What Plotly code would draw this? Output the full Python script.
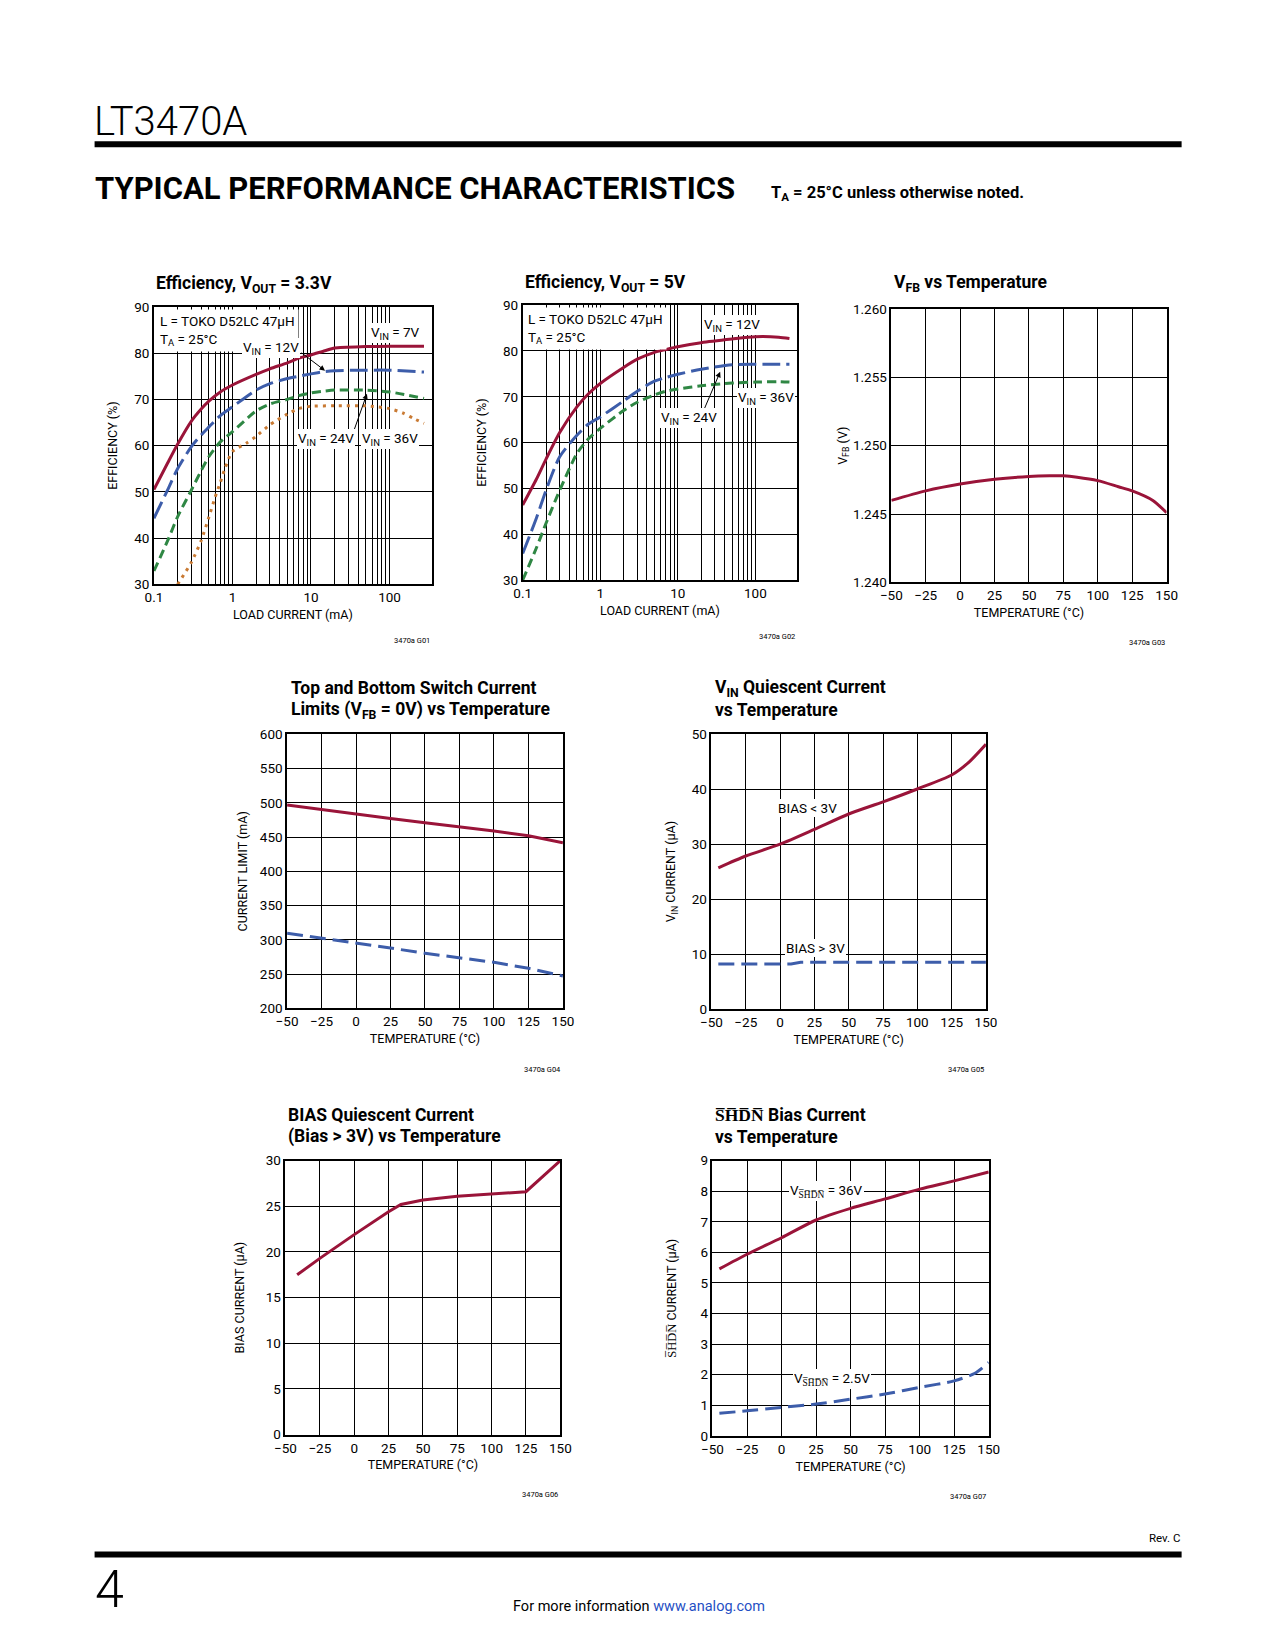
import math
import plotly.graph_objects as go

# Page geometry. The photographed page was measured to map a page point p to
# A*p + B in the picture, so target positions are pre-compensated below.
PAGE_W, PAGE_H = 1275, 1650
OFF = 8
W, H = PAGE_W - 2 * OFF, PAGE_H - 2 * OFF
AX, BX = 0.9816, 11.63
AY, BY = 0.9904, 7.89
FONT = "Roboto"
RED = "#9A1439"
BLUE = "#3D5DAA"
GREEN = "#2F8744"
ORANGE = "#C97A33"

# ---------------- data ----------------
eff33_load = [0.1, 0.15, 0.2, 0.3, 0.4, 0.5, 0.7, 1, 2, 3, 5, 7, 10, 15, 20, 50, 100, 275]
eff33_vin7 = [50.5, 56.3, 60.3, 65.3, 67.9, 69.6, 71.6, 73.1, 75.4, 76.6, 77.9, 78.9, 79.6, 80.5, 81.1, 81.4, 81.5, 81.5]
eff33_vin12 = [44.3, 50.5, 55.0, 59.8, 62.3, 64.0, 66.5, 68.4, 72.0, 73.4, 74.5, 75.0, 75.5, 76.0, 76.2, 76.3, 76.3, 75.9]
eff33_vin24 = [32.9, 39.5, 44.6, 50.4, 54.6, 57.6, 60.8, 63.0, 67.5, 69.0, 70.0, 70.8, 71.4, 71.8, 72.0, 72.0, 71.6, 70.2]
eff33_vin36_load = [0.2, 0.3, 0.4, 0.5, 0.6, 0.7, 0.8, 1, 1.5, 2, 3, 5, 7, 10, 20, 50, 100, 150, 200, 275]
eff33_vin36 = [30.0, 34.8, 39.5, 44.5, 48.8, 52.0, 55.0, 58.7, 60.5, 62.0, 64.5, 66.8, 68.0, 68.5, 68.6, 68.6, 68.0, 67.0, 65.9, 64.8]

eff5_load = [0.1, 0.15, 0.2, 0.3, 0.5, 0.7, 1, 2, 3, 5, 7, 10, 20, 50, 100, 200, 275]
eff5_vin12 = [46.4, 52.0, 56.4, 62.2, 67.8, 70.6, 72.9, 76.4, 78.2, 79.7, 80.3, 80.9, 81.8, 82.6, 83.1, 83.0, 82.7]
eff5_vin24 = [35.8, 43.5, 49.6, 56.9, 61.6, 64.0, 65.6, 69.1, 71.2, 73.4, 74.2, 74.9, 76.0, 77.0, 77.1, 77.1, 77.1]
eff5_vin36 = [30.0, 37.0, 42.4, 49.6, 57.6, 60.8, 63.1, 67.0, 68.8, 70.4, 71.2, 71.7, 72.4, 73.0, 73.2, 73.3, 73.2]

vfb_temp = [-50, -25, 0, 25, 50, 65, 75, 85, 100, 115, 125, 140, 150]
vfb_volts = [1.2460, 1.2467, 1.2472, 1.24755, 1.24775, 1.2478, 1.2478, 1.2477, 1.24745, 1.2470, 1.2467, 1.2460, 1.2451]

ilim_temp = [-50, -25, 0, 25, 50, 75, 100, 125, 150]
ilim_top = [496.8, 490.0, 483.7, 477.0, 471.0, 465.0, 458.8, 451.8, 441.8]
ilim_bottom = [309.5, 302.5, 295.9, 288.0, 280.3, 273.5, 267.1, 258.4, 247.2]

iq_temp_lt3 = [-45, -25, 0, 25, 50, 75, 100, 125, 137, 150]
iq_bias_lt3 = [25.7, 27.85, 30.0, 32.7, 35.5, 37.7, 40.05, 42.6, 44.8, 48.2]
iq_temp_gt3 = [-45, 0, 8, 15, 150]
iq_bias_gt3 = [8.2, 8.2, 8.2, 8.5, 8.5]

bias_temp = [-41.5, -25, 0, 25, 34, 50, 75, 100, 125, 150]
bias_current = [17.5, 19.3, 21.9, 24.4, 25.2, 25.7, 26.1, 26.35, 26.6, 30.0]

shdn_temp36 = [-45, -25, 0, 25, 50, 75, 100, 125, 150]
shdn_36v = [5.46, 5.94, 6.48, 7.06, 7.44, 7.75, 8.07, 8.34, 8.63]
shdn_temp25 = [-45, -25, 0, 25, 50, 75, 100, 125, 140, 150]
shdn_25v = [0.74, 0.82, 0.93, 1.04, 1.20, 1.37, 1.59, 1.80, 2.05, 2.40]

temp_ticks = [-50, -25, 0, 25, 50, 75, 100, 125, 150]
load_major = [0.1, 1, 10, 100]
load_major_text = ["0.1", "1", "10", "100"]
load_minor = [0.2, 0.3, 0.4, 0.5, 0.6, 0.7, 0.8, 0.9,
              2, 3, 4, 5, 6, 7, 8, 9,
              20, 30, 40, 50, 60, 70, 80, 90]

OVL = "\u0305"
SHDN = "".join(c + OVL for c in "SHDN")

def px(x):
    return ((x - BX) / AX - OFF) / W

def py(y):
    return 1 - ((y - BY) / AY - OFF) / H

panels = {
    1: (154.3, 432.0, 306.7, 584.3),
    2: (522.7, 797.0, 305.0, 580.0),
    3: (891.0, 1166.0, 309.0, 582.3),
    4: (287.3, 562.9, 734.3, 1008.3),
    5: (711.3, 985.5, 734.3, 1009.0),
    6: (285.7, 560.3, 1160.7, 1434.7),
    7: (712.3, 988.3, 1160.7, 1436.0),
}

tickfont = dict(family=FONT, size=13.5, color="black")
titlefont = dict(family=FONT, size=12.5, color="black")

def base_axis():
    return dict(showline=True, linecolor="black", linewidth=1.6, mirror=True,
                showgrid=True, gridcolor="black", gridwidth=1, zeroline=False,
                ticks="", tickfont=tickfont, fixedrange=True)

fig = go.Figure()
layout = dict(width=W, height=H, margin=dict(l=0, r=0, t=0, b=0),
              paper_bgcolor="white", plot_bgcolor="white", showlegend=False,
              font=dict(family=FONT, color="black"))

def set_axes(i, xcfg, ycfg):
    l, r, t, b = panels[i]
    xa = base_axis(); xa.update(xcfg)
    ya = base_axis(); ya.update(ycfg)
    xa["domain"] = [px(l), px(r)]
    ya["domain"] = [py(b), py(t)]
    xa["anchor"] = "y" if i == 1 else f"y{i}"
    ya["anchor"] = "x" if i == 1 else f"x{i}"
    layout["xaxis" if i == 1 else f"xaxis{i}"] = xa
    layout["yaxis" if i == 1 else f"yaxis{i}"] = ya

def ref(i):
    return ("x", "y") if i == 1 else (f"x{i}", f"y{i}")

def add_line(i, x, y, color, dash="solid", spline=True):
    xr, yr = ref(i)
    fig.add_trace(go.Scatter(x=x, y=y, xaxis=xr, yaxis=yr, mode="lines",
                             line=dict(color=color, width=3, dash=dash,
                                       shape="spline" if spline else "linear",
                                       smoothing=0.7),
                             hoverinfo="skip"))

load_xaxis = dict(type="log", range=[-1, 2.54], tickmode="array",
                  tickvals=load_major, ticktext=load_major_text,
                  minor=dict(tickmode="array", tickvals=load_minor, showgrid=True,
                             gridcolor="black", gridwidth=1, ticks=""),
                  title=dict(text="LOAD CURRENT (mA)", font=titlefont, standoff=6))
temp_xaxis = dict(range=[-50, 150], tickmode="array", tickvals=temp_ticks,
                  title=dict(text="TEMPERATURE (°C)", font=titlefont, standoff=6))

set_axes(1, load_xaxis, dict(range=[30, 90], dtick=10, tick0=30,
                            title=dict(text="EFFICIENCY (%)", font=titlefont, standoff=14)))
set_axes(2, load_xaxis, dict(range=[30, 90], dtick=10, tick0=30,
                            title=dict(text="EFFICIENCY (%)", font=titlefont, standoff=14)))
set_axes(3, temp_xaxis, dict(range=[1.240, 1.260], dtick=0.005, tick0=1.240, tickformat=".3f",
                            title=dict(text="V<sub>FB</sub> (V)", font=titlefont, standoff=3)))
set_axes(4, temp_xaxis, dict(range=[200, 600], dtick=50, tick0=200,
                            title=dict(text="CURRENT LIMIT (mA)", font=titlefont, standoff=9)))
set_axes(5, temp_xaxis, dict(range=[0, 50], dtick=10, tick0=0,
                            title=dict(text="V<sub>IN</sub> CURRENT (µA)", font=titlefont, standoff=13)))
set_axes(6, temp_xaxis, dict(range=[0, 30], dtick=5, tick0=0,
                            title=dict(text="BIAS CURRENT (µA)", font=titlefont, standoff=18)))
set_axes(7, temp_xaxis, dict(range=[0, 9], dtick=1, tick0=0,
                            title=dict(text=SHDN + " CURRENT (µA)", font=titlefont, standoff=21)))

add_line(1, eff33_load, eff33_vin7, RED)
add_line(1, eff33_load, eff33_vin12, BLUE, "18px,6px")
add_line(1, eff33_load, eff33_vin24, GREEN, "9px,5px")
add_line(1, eff33_vin36_load, eff33_vin36, ORANGE, "3px,5px")
add_line(2, eff5_load, eff5_vin12, RED)
add_line(2, eff5_load, eff5_vin24, BLUE, "18px,6px")
add_line(2, eff5_load, eff5_vin36, GREEN, "9px,5px")
add_line(3, vfb_temp, vfb_volts, RED)
add_line(4, ilim_temp, ilim_top, RED, spline=False)
add_line(4, ilim_temp, ilim_bottom, BLUE, "16px,7px", spline=False)
add_line(5, iq_temp_lt3, iq_bias_lt3, RED)
add_line(5, iq_temp_gt3, iq_bias_gt3, BLUE, "16px,7px", spline=False)
add_line(6, bias_temp, bias_current, RED, spline=False)
add_line(7, shdn_temp36, shdn_36v, RED)
add_line(7, shdn_temp25, shdn_25v, BLUE, "16px,7px")

ann = []
lg = math.log10
AS = 13.5

def label(i, x, y, text, size=AS, **kw):
    xr, yr = ref(i)
    d = dict(xref=xr, yref=yr, x=x, y=y, text=text, showarrow=False,
             font=dict(family=FONT, size=size, color="black"),
             bgcolor="white", borderpad=1, borderwidth=0)
    d.update(kw)
    ann.append(d)

def arrow(i, x, y, ax, ay):
    xr, yr = ref(i)
    ann.append(dict(xref=xr, yref=yr, x=x, y=y, ax=ax, ay=ay, axref=xr, ayref=yr,
                    text="", showarrow=True, arrowhead=2, arrowsize=1.1,
                    arrowwidth=1, arrowcolor="black"))

def paper_text(x, y, text, size, bold=False, anchor="left", color="black",
               yanchor="middle", weight=None):
    t = f"<b>{text}</b>" if bold else text
    f = dict(family=FONT, size=size, color=color)
    if weight is not None:
        f["weight"] = weight
    ann.append(dict(xref="paper", yref="paper", x=px(x), y=py(y), text=t,
                    showarrow=False, xanchor=anchor, yanchor=yanchor, font=f))

arrow(1, lg(15.1), 76.2, lg(7.26), 80.3)
arrow(1, lg(51.6), 71.2, lg(34.8), 63.0)
ann.append(dict(xref="paper", yref="paper", x=px(156), y=py(308.5), xanchor="left", yanchor="top",
                text="L = TOKO D52LC 47µH<br>T<sub>A</sub> = 25°C", align="left", showarrow=False,
                font=dict(family=FONT, size=AS, color="black"), bgcolor="white", borderpad=3))
label(1, lg(118.6), 84.3, "V<sub>IN</sub> = 7V")
label(1, lg(3.09), 81.1, "V<sub>IN</sub> = 12V")
label(1, lg(15.5), 61.4, "V<sub>IN</sub> = 24V")
label(1, lg(100), 61.4, "V<sub>IN</sub> = 36V")

arrow(2, lg(35.2), 75.45, lg(21.4), 66.9)
ann.append(dict(xref="paper", yref="paper", x=px(524.5), y=py(306.8), xanchor="left", yanchor="top",
                text="L = TOKO D52LC 47µH<br>T<sub>A</sub> = 25°C", align="left", showarrow=False,
                font=dict(family=FONT, size=AS, color="black"), bgcolor="white", borderpad=3))
label(2, lg(50.7), 85.6, "V<sub>IN</sub> = 12V")
label(2, lg(14.1), 65.3, "V<sub>IN</sub> = 24V")
label(2, lg(136), 69.7, "V<sub>IN</sub> = 36V")

label(5, 20, 36.6, "BIAS &lt; 3V")
label(5, 25.8, 11.1, "BIAS &gt; 3V")
label(7, 32.4, 8.0, "V<sub>" + SHDN + "</sub> = 36V")
label(7, 36.6, 1.85, "V<sub>" + SHDN + "</sub> = 2.5V")

TS = 17.5
paper_text(154.3, 284, "Efficiency, V<sub>OUT</sub> = 3.3V", TS, bold=True)
paper_text(522.7, 283, "Efficiency, V<sub>OUT</sub> = 5V", TS, bold=True)
paper_text(891.7, 283, "V<sub>FB</sub> vs Temperature", TS, bold=True)
paper_text(289.3, 688, "Top and Bottom Switch Current", TS, bold=True)
paper_text(289.3, 710, "Limits (V<sub>FB</sub> = 0V) vs Temperature", TS, bold=True)
paper_text(713.3, 688, "V<sub>IN</sub> Quiescent Current", TS, bold=True)
paper_text(713.3, 710, "vs Temperature", TS, bold=True)
paper_text(286.0, 1114.7, "BIAS Quiescent Current", TS, bold=True)
paper_text(286.0, 1137, "(Bias &gt; 3V) vs Temperature", TS, bold=True)
paper_text(713.3, 1114.7, SHDN + " Bias Current", TS, bold=True)
paper_text(713.3, 1137, "vs Temperature", TS, bold=True)

for (xr_, yc, code) in [(432, 640, "3470a G01"), (797, 636, "3470a G02"), (1166, 642, "3470a G03"),
                        (563, 1070, "3470a G04"), (986, 1070, "3470a G05"),
                        (560, 1495, "3470a G06"), (988, 1497, "3470a G07")]:
    paper_text(xr_, yc, code, 7.5, anchor="right")

paper_text(92, 121, "LT3470A", 40, weight=300)
paper_text(93, 188, "TYPICAL PERFORMANCE CHARACTERISTICS", 31, bold=True, weight=900)
paper_text(769, 193, "T<sub>A</sub> = 25°C unless otherwise noted.", 16.5, bold=True)
paper_text(1181, 1538, "Rev. C", 11.5, anchor="right")
paper_text(93, 1590, "4", 52, weight=300)
ann.append(dict(xref="paper", yref="paper", x=px(639), y=py(1607), xanchor="center", yanchor="middle",
                showarrow=False, text="For more information <span style='color:#1F4FC4'>www.analog.com</span>",
                font=dict(family=FONT, size=14.5, color="black")))

layout["annotations"] = ann
layout["shapes"] = [
    dict(type="line", xref="paper", yref="paper", x0=px(95), x1=px(1181), y0=py(144), y1=py(144),
         line=dict(color="black", width=6)),
    dict(type="line", xref="paper", yref="paper", x0=px(95), x1=px(1181), y0=py(1554.5), y1=py(1554.5),
         line=dict(color="black", width=6)),
]

fig.update_layout(**layout)
fig.write_html("out.html", config={"displayModeBar": False})
